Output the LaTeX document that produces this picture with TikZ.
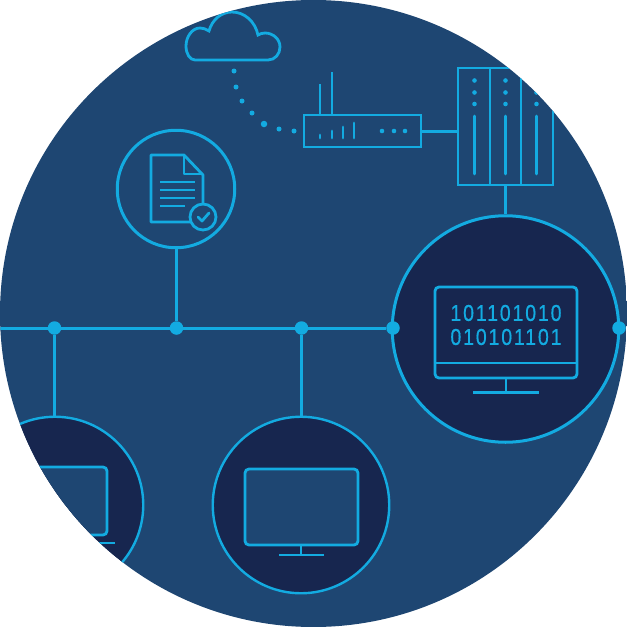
\documentclass[tikz,border=0pt]{standalone}
\usepackage{fontspec}
\setmainfont{Liberation Sans}
\newfontfamily\digitfont[FakeBold=0.5,FakeStretch=0.85,LetterSpace=8]{Liberation Sans}
\usetikzlibrary{positioning}
\definecolor{discblue}{HTML}{1E4672}
\definecolor{darkblue}{HTML}{17264F}
\definecolor{linecyan}{HTML}{13ABE1}
\tikzset{
    %Define style for icon lines
    icon/.style={
           draw=linecyan,
           line width=2.8pt},
    %Define style for big round nodes
    disc/.style={
           circle,
           draw=linecyan,
           line width=3pt,
           fill=darkblue,
           inner sep=0pt},
    %Define style for bus dots
    hub/.style={
           circle,
           fill=linecyan,
           inner sep=0pt,
           minimum size=13.5pt},
    %Define style for the small dots
    speck/.style={
           circle,
           fill=linecyan,
           inner sep=0pt,
           minimum size=5pt},
    digits/.style={
           text=linecyan,
           inner sep=0pt,
           font=\digitfont\fontsize{23}{23}\selectfont},
    % Define connector style
    pil/.style={
           draw=linecyan,
           line width=3pt}
}
\begin{document}
\begin{tikzpicture}[x=1pt,y=-1pt]
\useasboundingbox (0,0) rectangle (627,627);
\fill[white] (0,0) rectangle (627,627);
\clip (313.5,313.5) circle (313.5);
\fill[discblue] (0,0) rectangle (627,627);

%round nodes
\node[disc, minimum size=226.5pt] (binary) at (505.5,329) {};
\node[disc, minimum size=176.5pt, line width=2.4pt] (screen) at (301,505) {};
\node[disc, minimum size=176.5pt, line width=2.4pt] (laptop) at (55,505) {};
\node[disc, minimum size=117.5pt, fill=discblue] (document) at (176,189) {};

%bus
\coordinate (busstart) at (0,328);
\node[hub] (hubleft) at (54.5,328) {};
\node[hub] (hubdoc) at (176.5,328) {};
\node[hub] (hubscreen) at (301.5,328) {};
\node[hub] (hubbinary) at (393,328) {};
\node[hub] (hubright) at (619,328) {};
\draw[pil] (busstart) -- (hubleft);
\draw[pil] (hubleft) -- (hubdoc);
\draw[pil] (hubdoc) -- (hubscreen);
\draw[pil] (hubscreen) -- (hubbinary);
\draw[pil] (hubleft) -- (hubleft |- laptop.north);
\draw[pil] (hubdoc) -- (hubdoc |- document.south);
\draw[pil] (hubscreen) -- (hubscreen |- screen.north);

%router
\node[draw=linecyan, line width=2.8pt, minimum width=117pt, minimum height=32pt, inner sep=0pt] (router) at (362.5,131) {};
\coordinate (antennaone) at (320,84);
\coordinate (antennatwo) at (332,72);
\draw[icon] (antennaone) -- (antennaone |- router.north);
\draw[icon] (antennatwo) -- (antennatwo |- router.north);
\draw[icon, line cap=round] (320,138) -- (320,135)
  (332,138) -- (332,131) (343,138) -- (343,127) (354,138) -- (354,123);
\foreach \x in {382,394,405}
  \fill[linecyan] (\x,131) circle (2.3pt);

%server
\node[draw=linecyan, line width=2.8pt, minimum width=95pt, minimum height=117pt, inner sep=0pt] (server) at (505.5,126.5) {};
\draw[icon] (490,68) -- (490,185) (521,68) -- (521,185);
\foreach \x in {474.5,505.5,536.5} {
  \foreach \y in {80.5,92.5,104}
    \fill[linecyan] (\x,\y) circle (2.3pt);
  \draw[icon, line cap=round] (\x,116) -- (\x,174);
}
\draw[pil] (router.east) -- (router.east -| server.west);
\draw[pil] (server.south) -- (binary.north);

%cloud
\draw[icon] (195,60) -- (268,60) .. controls (275,60) and (280,54) .. (280,47)
  .. controls (280,39) and (273,33) .. (265,33)
  .. controls (262,33) and (260,34) .. (258,35)
  .. controls (255,21) and (244,12) .. (232,12)
  .. controls (221,12) and (212,20) .. (209,31)
  .. controls (206,29) and (203,28) .. (200,28)
  .. controls (192,28) and (186,37) .. (186,46)
  .. controls (186,54) and (190,60) .. (195,60) -- cycle;
\node[speck] (speck1) at (234,71) {};
\node[speck] (speck2) at (236,87) {};
\node[speck] (speck3) at (242,101) {};
\node[speck] (speck4) at (252,113) {};
\node[speck, minimum size=6.5pt] (speck5) at (264,124) {};
\node[speck] (speck6) at (279,129) {};
\node[speck] (speck7) at (294,131) {};

%document icon
\draw[icon, line join=round] (190,222) -- (151,222) -- (151,155) -- (184,155) -- (203,175) -- (203,205);
\draw[icon, line join=round] (184,155) -- (184,174) -- (203,174);
\draw[icon] (160,182) -- (195,182) (160,190) -- (195,190) (160,198) -- (195,198) (160,206) -- (185,206);
\node[circle, draw=linecyan, line width=2.8pt, minimum size=26pt, inner sep=0pt] (tick) at (203,217) {};
\draw[icon, line cap=round, line join=round] (198,217) -- (202,221) -- (209,213);

%binary monitor
\draw[icon, rounded corners=4pt] (435,287) rectangle (577,378);
\draw[icon] (435,363) -- (577,363);
\draw[icon] (506,378) -- (506,392.5) (473,392.5) -- (539,392.5);
\node[digits] (rowone) at (506,313) {101101010};
\node[digits] (rowtwo) at (506,337) {010101101};

%plain monitors
\draw[icon, fill=discblue, rounded corners=4pt] (245,469) rectangle (358,545);
\draw[icon] (301,545) -- (301,555) (279,555) -- (324,555);
\draw[icon, fill=discblue, rounded corners=4pt] (3,467) rectangle (107,535);
\draw[icon] (-5,543) -- (115,543);
\end{tikzpicture}
\end{document}
